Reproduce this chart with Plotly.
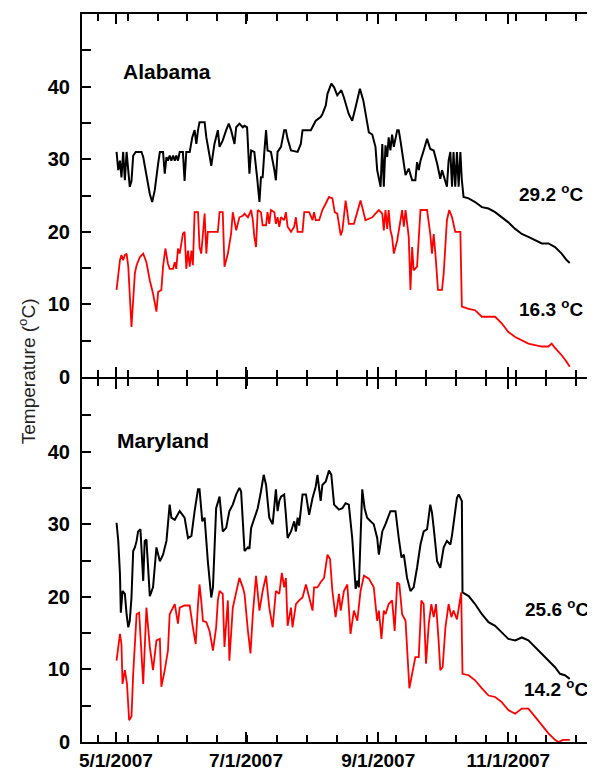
import plotly.graph_objects as go
import pandas as pd

START = pd.Timestamp("2007-05-01")

# ---------------- Alabama: daily maximum (black) ----------------
al_hi_day = [0.3, 1.1, 1.9, 2.6, 3.4, 4.2, 5.0, 6.5, 7.3, 8.1, 9.3, 12.0, 12.8, 14.3, 15.9, 17.0, 18.2, 19.8,
             20.6, 22.1, 22.9, 23.7, 24.4, 25.2, 26.0, 26.8, 27.6, 28.3, 29.1, 29.9, 31.4, 32.2, 33.0, 34.6,
             35.8, 36.9, 37.7, 38.5, 39.2, 41.6, 42.4, 43.9, 44.7, 46.2, 47.8, 48.6, 50.1, 51.7, 52.9, 54.0,
             55.6, 56.4, 57.9, 59.5,
             60.3, 61.5, 62.6, 63.4, 64.9, 66.2, 67.3, 68.0, 68.8, 69.6, 70.4, 71.1, 72.7, 74.3, 75.0, 75.8,
             77.4, 78.9, 79.7, 80.5, 82.1, 85.2, 86.7, 87.5, 88.3, 91.4, 93.7, 96.0, 96.8, 98.4, 99.2, 101.0,
             102.3, 103.8, 105.7, 106.9, 109.2, 110.8, 112.4, 114.4, 116.0, 117.0, 118.6, 120.2, 121.7, 122.5,
             123.3, 124.1, 124.9, 125.6, 126.4, 127.2, 127.9, 128.7, 129.5, 130.3, 131.9, 132.6, 133.4, 135.0,
             135.8, 137.3, 138.9, 140.4, 141.2, 142.0, 142.8, 144.3, 145.9, 147.4, 149.0, 150.6, 152.1, 152.9,
             154.5, 155.2, 156.0, 156.8, 157.6, 158.3, 159.1, 159.9, 160.7, 161.5, 162.2, 163.0,
             165.4, 168.4, 171.6, 174.7, 177.8, 180.9, 184.0, 187.2, 190.3, 193.4, 196.5, 199.7, 202.8, 205.9,
             209.0, 211.3, 212.8]
al_hi_temp = [31.0, 28.5, 29.8, 27.5, 31.0, 27.1, 31.0, 26.2, 27.0, 30.5, 31.0, 31.0, 30.3, 28.0, 25.2, 24.1, 25.7, 29.4,
              31.0, 31.0, 28.0, 30.3, 29.8, 30.5, 29.8, 30.5, 29.8, 30.5, 29.8, 31.0, 31.0, 27.0, 31.0, 31.0,
              33.0, 34.0, 32.1, 34.0, 35.1, 35.1, 33.0, 30.5, 29.1, 32.1, 34.0, 31.7, 32.6, 34.0, 34.9, 34.0,
              32.1, 34.4, 34.9, 34.4,
              34.6, 34.4, 28.0, 31.2, 31.0, 27.5, 24.1, 27.5, 27.5, 31.0, 34.0, 31.2, 31.0, 28.5, 27.1, 31.0,
              31.7, 34.0, 34.0, 32.8, 31.2, 31.0, 32.1, 34.0, 34.0, 34.0, 35.3, 35.8, 36.2, 37.4, 39.0, 40.4,
              39.9, 38.8, 39.5, 38.5, 36.2, 35.3, 37.2, 39.7, 38.1, 36.2, 33.7, 33.4, 31.7, 28.5,
              27.5, 26.2, 32.1, 26.2, 31.9, 30.3, 33.0, 31.2, 33.4, 31.7, 34.0, 34.0, 32.6, 29.4,
              27.8, 28.7, 27.1, 27.1, 29.6, 28.5, 29.8, 31.2, 32.8, 31.4, 31.2, 29.4, 27.3, 28.5,
              27.1, 26.2, 29.8, 31.0, 26.2, 31.0, 26.2, 31.0, 26.2, 31.0, 27.1, 24.8,
              24.6, 24.1, 23.4, 23.2, 22.7, 22.0, 21.3, 20.4, 19.7, 19.3, 18.8, 18.4, 18.4, 17.9,
              17.0, 16.1, 15.7]

# ---------------- Alabama: daily minimum (red) ----------------
al_lo_day = [0.3, 1.1, 1.9, 2.6, 3.4, 4.2, 5.0, 5.8, 6.5, 7.3, 8.1, 8.9, 9.7, 11.2, 12.8, 14.3, 15.9, 17.4, 19.0,
             19.8, 21.3, 22.1, 23.2, 24.4, 25.2, 26.8, 27.6, 28.3, 29.1, 29.9, 30.7, 31.4, 32.2, 33.0, 33.8,
             34.6, 35.4, 36.1, 36.9, 38.5, 39.2, 40.0, 40.8, 41.6, 42.4, 43.1, 45.5, 47.8, 48.6, 50.1, 50.9,
             52.5, 54.0, 54.8, 56.4, 57.9, 59.5,
             60.3, 61.9, 63.4, 64.2, 64.9, 65.7, 66.5, 68.0, 68.8, 70.4, 71.1, 71.9, 72.7, 74.3, 75.0, 75.8,
             76.6, 77.4, 78.9, 79.7, 80.5, 82.1, 83.6, 84.4, 85.2, 87.5, 88.3, 90.6, 92.2, 92.9, 93.7, 95.3,
             96.8, 98.4, 99.9, 101.5, 102.6, 103.8, 105.4, 106.2, 107.7, 108.5, 109.2, 111.6, 113.2, 114.7,
             115.5, 117.0, 118.6, 120.2, 121.7,
             123.3, 124.9, 125.6, 126.4, 127.2, 127.9, 128.7, 129.5, 130.3, 131.9, 133.4, 134.2, 135.0, 135.8,
             137.3, 138.1, 138.9, 139.6, 141.2, 142.8, 145.9, 147.4, 148.2, 149.0, 149.8, 151.0, 152.9, 153.7,
             155.2, 156.3, 157.6, 159.1, 161.5, 162.2,
             165.4, 168.4, 171.6, 174.7, 177.8, 180.9, 184.0, 187.2, 190.3, 193.4, 196.5, 199.7, 202.8, 204.3,
             205.9, 209.0, 211.3, 212.8]
al_lo_temp = [12.0, 13.8, 16.1, 16.8, 16.1, 16.8, 17.0, 15.2, 11.0, 6.9, 10.6, 14.3, 15.4, 16.5, 17.0, 15.8, 13.3, 11.5, 9.0,
              11.7, 12.0, 15.2, 17.7, 15.6, 14.9, 14.9, 15.8, 14.9, 17.7, 17.0, 18.4, 19.7, 20.0, 14.9, 17.4,
              15.2, 17.4, 15.4, 22.7, 22.7, 17.9, 17.0, 19.7, 22.5, 17.0, 20.0, 20.0, 20.0, 22.7, 22.7, 15.2,
              17.0, 19.7, 22.7, 20.2, 22.0, 22.2,
              22.5, 22.0, 23.0, 21.6, 19.3, 17.9, 23.0, 22.7, 20.9, 20.9, 22.7, 21.1, 23.0, 22.7, 21.1, 22.0,
              20.7, 22.0, 21.6, 22.7, 20.7, 20.0, 20.7, 22.0, 20.0, 20.0, 22.7, 22.7, 21.6, 22.7, 21.6, 21.6,
              23.0, 23.9, 24.8, 24.6, 22.7, 22.5, 19.5, 20.2, 24.3, 22.7, 21.1, 21.1, 22.7, 24.3,
              23.4, 21.6, 21.8, 22.0, 22.5,
              23.0, 22.5, 20.2, 23.0, 20.4, 23.0, 20.2, 19.3, 17.0, 18.8, 21.6, 23.0, 20.7, 23.0,
              19.3, 12.0, 17.9, 14.7, 15.2, 23.0, 23.0, 19.7, 17.0, 19.7, 17.0, 12.0, 12.0, 14.3,
              21.6, 23.0, 22.0, 20.0, 20.0, 9.7,
              9.4, 9.2, 8.3, 8.3, 8.3, 7.4, 6.2, 5.5, 5.1, 4.6, 4.4, 4.2, 4.2, 4.6,
              4.0, 3.0, 2.1, 1.4]

# ---------------- Maryland: daily maximum (black) ----------------
md_hi_day = [0.3, 1.1, 1.9, 2.3, 3.1, 4.2, 5.0, 5.8, 6.5, 7.3, 8.1, 8.9, 9.7, 10.4, 11.5, 12.0, 12.8, 13.5, 14.3,
             15.1, 15.9, 17.4, 19.0, 20.6, 22.1, 23.7, 25.2, 26.0, 27.6, 29.9, 32.2, 33.8, 35.4, 36.9, 38.5,
             39.2, 40.5, 41.6, 43.1, 44.7, 45.5, 47.0, 48.6, 50.1, 51.7, 53.2, 54.8, 56.4, 57.9, 58.7,
             60.3, 61.9, 62.6, 63.4, 64.9, 66.5, 68.0, 69.3, 70.4, 71.9, 73.5, 74.3, 75.0, 75.8, 76.6, 77.4,
             78.9, 79.7, 80.5, 82.1, 83.6, 84.4, 85.2, 85.9, 87.5, 89.1, 90.6, 92.2, 93.7, 94.5, 96.0, 96.8,
             98.4, 99.9, 101.0, 102.3, 104.6, 106.2, 107.7, 109.2, 110.8, 112.4, 113.2, 113.9, 114.7, 115.5,
             116.6, 117.8, 119.4, 120.9, 122.5,
             123.3, 124.9, 126.4, 128.7, 131.1, 132.6, 133.9, 135.0, 136.5, 138.1, 139.6, 141.2, 142.8, 144.3,
             145.9, 147.4, 148.2, 149.0, 150.6, 152.1, 153.7, 155.2, 156.8, 157.6, 158.8, 159.9, 160.7, 162.2,
             162.5,
             165.4, 168.4, 171.6, 174.7, 177.8, 180.9, 184.0, 187.2, 190.3, 193.4, 196.5, 199.7, 202.8, 205.9,
             208.2, 210.5, 212.8]
md_hi_temp = [30.2, 27.7, 23.1, 17.8, 20.8, 20.4, 17.6, 15.8, 16.7, 19.9, 26.3, 26.8, 27.7, 29.0, 29.3, 25.8, 22.2, 27.7, 27.9,
              24.0, 20.1, 21.3, 26.8, 24.9, 25.8, 27.7, 32.7, 30.9, 30.6, 31.8, 30.9, 28.1, 28.4, 31.8, 34.8,
              34.8, 30.4, 30.9, 24.9, 19.9, 21.3, 32.2, 33.8, 29.0, 29.5, 31.8, 32.7, 34.1, 35.0, 34.5,
              26.3, 26.8, 26.6, 29.5, 30.9, 32.2, 34.5, 36.8, 35.4, 30.9, 30.0, 32.2, 34.8, 31.8, 33.2, 33.8,
              34.1, 31.3, 28.1, 29.0, 30.4, 29.0, 30.9, 29.8, 34.1, 34.1, 31.3, 33.6, 35.2, 36.8, 33.2, 35.4,
              35.9, 37.4, 36.8, 32.7, 32.0, 32.2, 32.9, 32.7, 28.1, 21.1, 22.2, 21.3, 27.7, 34.8,
              32.2, 30.9, 30.4, 30.0, 28.1,
              25.8, 29.0, 30.0, 31.8, 31.8, 28.1, 25.4, 25.8, 22.6, 20.8, 21.3, 24.0, 27.2, 29.0,
              29.3, 32.7, 31.6, 29.5, 24.9, 24.0, 26.8, 27.7, 27.2, 28.5, 30.9, 33.6, 34.1, 33.2,
              20.6,
              20.1, 19.0, 17.6, 16.5, 16.0, 15.1, 14.2, 14.0, 14.4, 14.0, 13.1, 12.2, 11.2, 10.3,
              9.4, 9.2, 8.7]

# ---------------- Maryland: daily minimum (red) ----------------
md_lo_day = [0.3, 1.1, 1.9, 2.6, 3.1, 4.2, 5.2, 6.2, 7.3, 8.1, 8.9, 9.7, 10.9, 12.0, 12.8, 14.3, 15.1, 15.9, 17.4,
             19.0, 20.6, 21.3, 22.9, 24.4, 25.2, 27.6, 29.1, 29.9, 32.2, 34.6, 36.1, 37.4, 38.5, 39.2, 40.0,
             40.8, 42.4, 43.9, 45.5, 47.0, 47.8, 48.6, 50.1, 50.9, 52.5, 53.2, 54.8, 56.4, 57.9, 59.5,
             60.3, 61.9, 63.1, 64.2, 65.7, 67.3, 68.8, 70.4, 71.9, 73.5, 75.0, 76.6, 77.8, 78.9, 79.7, 80.5,
             82.1, 82.8, 84.4, 85.9, 87.5, 89.1, 90.6, 92.2, 92.9, 94.5, 96.0, 97.6, 99.2, 100.4, 101.5, 103.0,
             104.6, 105.4, 106.9, 108.5, 110.0, 111.6, 113.2, 114.7, 116.3, 118.6, 120.9, 122.5,
             123.3, 124.5, 125.6, 126.4, 127.9, 129.5, 130.7, 131.9, 132.9, 134.2, 135.8, 137.6, 138.9, 140.4,
             142.0, 143.2, 144.3, 145.4, 146.7, 147.9, 149.0, 150.1, 151.3, 152.1, 153.2, 154.5, 156.0, 157.3,
             158.3, 159.9, 161.9, 162.5,
             165.4, 168.4, 171.6, 174.7, 177.8, 180.9, 184.0, 187.2, 190.3, 193.4, 196.5, 199.7, 202.8, 205.9,
             207.4, 209.7, 212.8]
md_lo_temp = [11.2, 13.1, 14.9, 13.5, 8.0, 9.9, 8.0, 3.0, 3.5, 9.4, 14.0, 17.6, 17.8, 11.7, 8.0, 18.5, 15.8, 13.1, 9.9,
              14.0, 14.2, 7.6, 9.9, 12.6, 17.6, 19.0, 16.3, 18.5, 18.8, 18.8, 15.8, 13.5, 19.0, 21.7, 19.5,
              16.7, 16.5, 15.3, 12.6, 15.8, 19.5, 20.8, 20.4, 13.1, 19.5, 11.2, 18.5, 20.4, 22.6, 21.3,
              20.4, 15.3, 12.2, 17.6, 22.9, 18.1, 20.8, 22.9, 18.5, 15.8, 20.8, 20.4, 23.3, 21.3, 22.6, 16.0,
              18.5, 15.8, 19.0, 19.5, 19.9, 21.7, 19.9, 18.1, 21.3, 21.3, 22.0, 22.6, 25.8, 25.2, 20.8, 17.2,
              20.4, 18.1, 20.8, 21.7, 14.9, 18.1, 16.7, 20.8, 22.9, 22.5, 21.3, 16.7,
              18.1, 14.2, 18.1, 17.6, 19.0, 19.5, 15.3, 22.0, 21.7, 17.6, 16.7, 7.4, 9.4, 11.7,
              11.7, 19.5, 19.0, 10.8, 16.3, 19.0, 17.2, 19.0, 14.0, 9.9, 10.3, 15.8, 19.0, 17.2,
              18.1, 16.9, 20.6, 9.4,
              9.2, 8.5, 7.4, 6.4, 6.2, 5.5, 4.4, 3.9, 4.6, 4.6, 3.5, 2.3, 1.2, 0.3,
              0.0, 0.3, 0.3]

# ---------------- axis ticks and labels ----------------
x_tick_dates = ["2007-05-01", "2007-07-01", "2007-09-01", "2007-11-01"]
x_tick_text = ["5/1/2007", "7/1/2007", "9/1/2007", "11/1/2007"]
y_tick_vals = [0, 10, 20, 30, 40]
y_minor_vals = [5, 15, 25, 35, 45]
panel_names = ["Alabama", "Maryland"]
end_labels_al = ["29.2 <sup>o</sup>C", "16.3 <sup>o</sup>C"]
end_labels_md = ["25.6 <sup>o</sup>C", "14.2 <sup>o</sup>C"]


def to_dates(days):
    return [START + pd.Timedelta(days=d) for d in days]


FONT = "Liberation Sans, Arial, sans-serif"
BLACK = "#000000"
RED = "#ff0000"

fig = go.Figure()
fig.add_trace(go.Scatter(x=to_dates(al_hi_day), y=al_hi_temp, mode="lines",
                         line=dict(color=BLACK, width=2), xaxis="x2", yaxis="y2", showlegend=False))
fig.add_trace(go.Scatter(x=to_dates(al_lo_day), y=al_lo_temp, mode="lines",
                         line=dict(color=RED, width=1.8), xaxis="x2", yaxis="y2", showlegend=False))
fig.add_trace(go.Scatter(x=to_dates(md_hi_day), y=md_hi_temp, mode="lines",
                         line=dict(color=BLACK, width=2), xaxis="x", yaxis="y", showlegend=False))
fig.add_trace(go.Scatter(x=to_dates(md_lo_day), y=md_lo_temp, mode="lines",
                         line=dict(color=RED, width=1.8), xaxis="x", yaxis="y", showlegend=False))

x_range = [START + pd.Timedelta(days=-15.9), START + pd.Timedelta(days=225.1)]
minor_x = dict(ticks="inside", ticklen=7, tickwidth=2, tickcolor=BLACK,
               tick0="2007-04-22 12:00", dtick=14 * 86400000)

xaxis_common = dict(
    range=x_range, type="date", showgrid=False, zeroline=False,
    showline=True, linecolor=BLACK, linewidth=2, mirror="ticks",
    tickmode="array", tickvals=x_tick_dates, ticktext=x_tick_text,
    ticks="inside", ticklen=10, tickwidth=2, tickcolor=BLACK,
    minor=minor_x,
    tickfont=dict(family=FONT, size=19, color=BLACK, weight="bold"),
)
yaxis_common = dict(
    range=[0, 50], showgrid=False, zeroline=False,
    showline=True, linecolor=BLACK, linewidth=2, mirror="ticks",
    tickmode="array", tickvals=y_tick_vals,
    ticks="inside", ticklen=9, tickwidth=2, tickcolor=BLACK,
    minor=dict(tickmode="array", tickvals=y_minor_vals, ticks="inside", ticklen=9,
               tickwidth=2, tickcolor=BLACK),
    tickfont=dict(family=FONT, size=20, color=BLACK, weight="bold"),
    ticklabelstandoff=6,
)

# the page body adds an 8 px offset, so the figure is drawn 8 px smaller and
# the margins are reduced by the same amount
GAP = 1.0 / 728  # lets the two panels' shared border lines fall on one another
fig.update_layout(
    width=590, height=765,
    margin=dict(l=74, r=0, t=6, b=31),
    paper_bgcolor="white", plot_bgcolor="white",
    xaxis=dict(**xaxis_common, anchor="y", domain=[0, 1]),
    xaxis2=dict(**xaxis_common, anchor="y2", domain=[0, 1], matches="x", showticklabels=False),
    yaxis=dict(**yaxis_common, anchor="x", domain=[0, 0.5 - GAP]),
    yaxis2=dict(**yaxis_common, anchor="x2", domain=[0.5 + GAP, 1]),
)

bold21 = dict(family=FONT, size=21, color=BLACK, weight="bold")
bold19 = dict(family=FONT, size=19, color=BLACK, weight="bold")
annots = [
    dict(text=panel_names[0], x=START + pd.Timedelta(days=2.3), y=42.1, xref="x2", yref="y2",
         xanchor="left", yanchor="middle", showarrow=False, font=bold21),
    dict(text=panel_names[1], x=START + pd.Timedelta(days=-0.5), y=41.5, xref="x", yref="y",
         xanchor="left", yanchor="middle", showarrow=False, font=bold21),
    dict(text=end_labels_al[0], x=START + pd.Timedelta(days=188.2), y=25.3, xref="x2", yref="y2",
         xanchor="left", yanchor="middle", showarrow=False, font=bold19),
    dict(text=end_labels_al[1], x=START + pd.Timedelta(days=188.2), y=9.5, xref="x2", yref="y2",
         xanchor="left", yanchor="middle", showarrow=False, font=bold19),
    dict(text=end_labels_md[0], x=START + pd.Timedelta(days=191.0), y=18.5, xref="x", yref="y",
         xanchor="left", yanchor="middle", showarrow=False, font=bold19),
    dict(text=end_labels_md[1], x=START + pd.Timedelta(days=190.6), y=7.5, xref="x", yref="y",
         xanchor="left", yanchor="middle", showarrow=False, font=bold19),
    dict(text="Temperature (<sup>o</sup>C)", x=-0.1066, y=0.5096, xref="paper", yref="paper",
         xanchor="center", yanchor="middle", textangle=-90, showarrow=False,
         font=dict(family=FONT, size=19, color="#222222")),
]
fig.update_layout(annotations=annots)

fig.write_html("out.html")
